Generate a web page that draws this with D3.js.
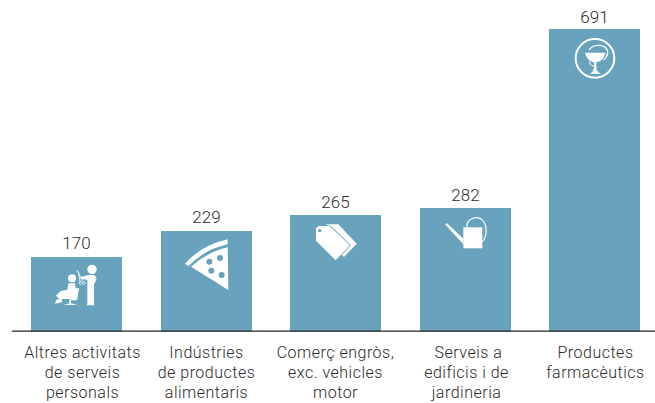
<!DOCTYPE html>
<html><head><meta charset="utf-8">
<script src="https://cdn.jsdelivr.net/npm/d3@7"></script>
<style>html,body{margin:0;padding:0;background:#fff}svg{display:block}text{font-family:Roboto,sans-serif;font-weight:300;fill:#2b2b2b}</style>
</head><body><svg id="c" width="655" height="403"></svg>
<script>
const categories = ["Altres activitats de serveis personals","Indústries de productes alimentaris","Comerç engròs, exc. vehicles motor","Serveis a edificis i de jardineria","Productes farmacèutics"];
const labelLines = [["Altres activitats","de serveis","personals"],["Indústries","de productes","alimentaris"],["Comerç engròs,","exc. vehicles","motor"],["Serveis a","edificis i de","jardineria"],["Productes","farmacèutics"]];
const values = [170,229,265,282,691];
const barColor = "#68a2bc";

// icon artwork, drawn at 3x and relative to the bar's top-left corner
const icons = [
 {ox:3,oy:96,lx:6,vy:0,parts:[
  {c:[186,133,14]},{c:[126,160,12]},
  {d:"M176,150 L152,156 L152,162 L172,164 L172,238 L169,241 L192,241 L192,178 L199,165 Q200,150 188,150 Z",f:1},
  {d:"M115,175 L135,175 L137,192 L130,222 L96,222 L96,232 L75,236 L78,226 L88,222 L78,212 L92,198 L112,194 Z",f:1},
  {d:"M136,190 L147,190 L141,226 L123,226 L123,235 L142,240 L100,240 L118,235 L118,226 Z",f:1},
  {d:"M140,135 L158,168 M150,172 L146,140",s:2.5},
  {c:[152,174,4.5],s:2},{c:[162,174,4],s:2}]},
 {ox:393,oy:18,lx:0,vy:0,parts:[
  {d:"M465,116 Q515,60 593,43 L593,58 Q525,72 475,124 Z",f:1},
  {d:"M483,125 Q530,82 593,67 L595,195 Z",f:1},
  {c:[538,110,9],t:1},{c:[570,99,9],t:1},{c:[544,137,9],t:1},{c:[575,150,9],t:1}]},
 {ox:15,oy:45,lx:0,vy:0,parts:[
  {d:"M120,73 L160,73 L215,131 L177,171 L170,165 L198,136 L138,78 Z",f:1},
  {d:"M93,85 L101,78 L134,78 L195,136 L152,181 L93,122 Z",f:1},
  {c:[104,92,5],t:1}]},
 {ox:405,oy:24,lx:1,vy:1,firstDx:2,parts:[
  {d:"M535,82 L592,82 L592,145 L535,145 Z",f:1},
  {d:"M480,73 L486,70 L535,116 L535,133 Z",f:1},
  {d:"M545,82 C545,55 575,47 590,58 C610,75 605,112 592,125",s:3.5}]},
 {ox:27,oy:87,lx:1,vy:2,parts:[
  {c:[165,175,58],s:6},
  {d:"M135,158 L196,158 Q192,182 170,187 L160,187 Q140,180 135,158 Z",f:1},
  {d:"M148,150 C155,133 192,130 202,150 C206,165 198,174 190,180",s:4},
  {d:"M163,186 L163,210 L150,222 L182,222 L169,210 L169,186 Z",f:1},
  {d:"M150,184 Q146,195 160,198 Q178,202 158,210",s:3}]}
];

const svg = d3.select("#c");
const x = d3.scaleBand().domain(categories).range([31.3,640.3]).paddingInner(0.2959).paddingOuter(0);
const y = d3.scaleLinear().domain([0,691]).range([331.5,29]);
const bw = Math.round(x.bandwidth());
const left = d => Math.round(x(d));

const g = svg.selectAll("g.bar").data(categories).join("g").attr("class","bar");
g.append("rect").attr("x",left).attr("y",(d,i)=>Math.round(y(values[i]))).attr("width",bw).attr("height",(d,i)=>y(0)-Math.round(y(values[i]))).attr("fill",barColor);
g.append("text").attr("x",d=>left(d)+bw/2).attr("y",(d,i)=>y(values[i])-7.8+icons[i].vy).attr("text-anchor","middle").attr("font-size",17).text((d,i)=>values[i]);

g.each(function(d,i){
  const ic = icons[i];
  const ig = d3.select(this).append("g").attr("transform",`translate(${left(d)},${Math.round(y(values[i]))}) scale(${1/3}) translate(${-ic.ox},${-ic.oy})`);
  ic.parts.forEach(p=>{
    const el = p.c ? ig.append("circle").attr("cx",p.c[0]).attr("cy",p.c[1]).attr("r",p.c[2]) : ig.append("path").attr("d",p.d);
    if(p.s) el.attr("fill","none").attr("stroke","#fff").attr("stroke-width",p.s);
    else el.attr("fill",p.t?barColor:"#fff");
  });
});

svg.append("line").attr("x1",12).attr("x2",655).attr("y1",331.2).attr("y2",331.2).attr("stroke","#222").attr("stroke-width",1.2);

g.each(function(d,i){
  d3.select(this).selectAll("text.l").data(labelLines[i]).join("text").attr("class","l")
    .attr("x",(s,j)=>left(d)+bw/2+icons[i].lx+(j===0&&icons[i].firstDx?icons[i].firstDx:0)).attr("y",(s,j)=>357.5+j*20).attr("text-anchor","middle").attr("font-size",16).attr("letter-spacing","0.5px").text(s=>s);
});
</script></body></html>
